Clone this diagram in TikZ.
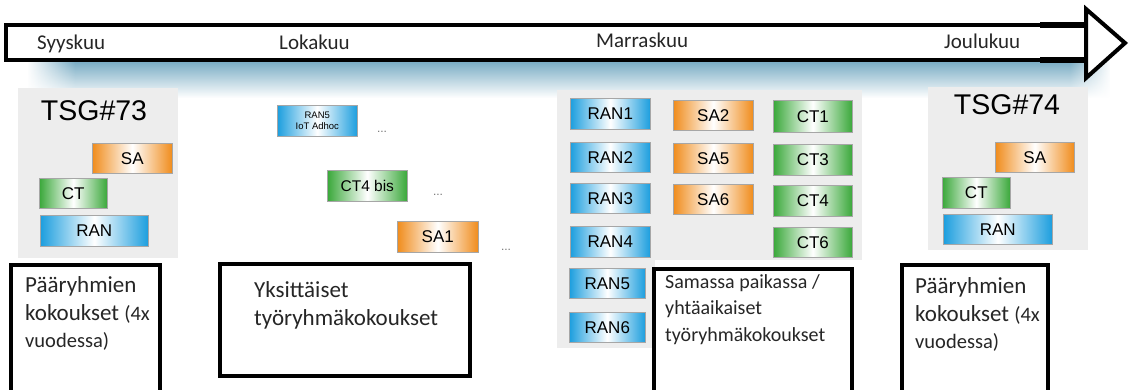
\documentclass[tikz,border=0pt]{standalone}
\usepackage{fontspec}
\setmainfont{Carlito}
\newfontfamily\arial{Liberation Sans}
\usetikzlibrary{fadings}
\definecolor{ranblue}{RGB}{28,158,222}
\definecolor{saorange}{RGB}{240,140,28}
\definecolor{ctgreen}{RGB}{58,168,58}
\definecolor{panelgray}{RGB}{237,237,237}
\definecolor{shadowteal}{RGB}{108,164,190}
\tikzfading[name=shfade, top color=transparent!0, bottom color=transparent!100]
\tikzfading[name=fadeleft, left color=transparent!0, right color=transparent!100]
\tikzfading[name=faderight, left color=transparent!100, right color=transparent!0]

\begin{document}
\begin{tikzpicture}[x=1pt,y=-1pt,
  panel/.style={fill=panelgray, draw=none},
  wg/.style={draw=black!35, line width=0.6pt, left color=#1, right color=#1,
    middle color=white, inner sep=0pt, anchor=north west,
    font=\arial\fontsize{17}{17}\selectfont},
  ranbox/.style={wg=ranblue},
  sabox/.style={wg=saorange},
  ctbox/.style={wg=ctgreen},
  sz/.style 2 args={minimum width=#1, minimum height=#2},
  tsg/.style={font=\arial\fontsize{28.5}{28.5}\selectfont, inner sep=0pt},
  dots/.style={font=\arial\fontsize{12}{12}\selectfont, text=black!55, inner sep=0pt},
  frame/.style={draw=black, line width=4pt, fill=white},
  month/.style={anchor=base west, inner sep=0pt, font=\fontsize{21}{21}\selectfont, text=black!85},
  big/.style={anchor=base west, inner sep=0pt, font=\fontsize{23}{23}\selectfont, text=black!85},
  mid/.style={anchor=base west, inner sep=0pt, font=\fontsize{20}{20}\selectfont, text=black!85},
  small/.style={font=\fontsize{20.5}{20.5}\selectfont},
]
\useasboundingbox (0,0) rectangle (1130,389);
\clip (0,0) rectangle (1130,389);

% soft shadow under the timeline
\fill[shadowteal, path fading=shfade] (28,58) rectangle (1110,98);
\fill[white, path fading=fadeleft] (27,57) rectangle (75,101);
\fill[white, path fading=faderight] (1070,57) rectangle (1111,101);

% timeline arrow
\draw[line width=4pt, fill=white] (1086,25) -- (6,25) -- (6,60) -- (1086,60);
\draw[line width=6pt] (1040,25) -- (1086,25) (1040,60) -- (1086,60);
\draw[line width=4pt, fill=white, line join=miter] (1086,9) -- (1125,43) -- (1086,78) -- cycle;

\node[month] (syys) at (37,49) {Syyskuu};
\node[month] (loka) at (279,49) {Lokakuu};
\node[month] (marras) at (596,47) {Marraskuu};
\node[month] (joulu) at (944,48) {Joulukuu};

% plenary meeting panels
\fill[panel] (18,88) rectangle (178,258);
\node[tsg] (tsg73) at (94,111) {TSG\#73};
\node[sabox, sz={80}{30}] (sa73) at (92,143) {SA};
\node[ctbox, sz={68}{30}] (ct73) at (39,178) {CT};
\node[ranbox, sz={108}{31}] (ran73) at (40,215) {RAN};

\fill[panel] (928,87) rectangle (1088,250);
\node[tsg] (tsg74) at (1007,105) {TSG\#74};
\node[sabox, sz={79}{30}] (sa74) at (995,142) {SA};
\node[ctbox, sz={68}{31}] (ct74) at (942,177) {CT};
\node[ranbox, sz={109}{30}] (ran74) at (943,214) {RAN};

% separate working group meetings
\node[ranbox, sz={80}{31}, font=\arial\fontsize{9.5}{11}\selectfont, align=center] (ran5a) at (277,105) {RAN5\\IoT Adhoc};
\node[dots] (d1) at (382,132) {...};
\node[ctbox, sz={80}{31}, font=\arial\fontsize{15.5}{15.5}\selectfont] (ct4b) at (327,170) {CT4 bis};
\node[dots] (d2) at (438,195) {...};
\node[sabox, sz={81}{31}] (sa1) at (397,221) {SA1};
\node[dots] (d3) at (506,250) {...};

% co-located working group meetings
\fill[panel] (557,90) rectangle (862,260);
\fill[panel] (557,259) rectangle (655,348);
\node[ranbox, sz={80}{31}] (ran1) at (570,98) {RAN1};
\node[ranbox, sz={80}{30}] (ran2) at (570,142) {RAN2};
\node[ranbox, sz={80}{30}] (ran3) at (570,183) {RAN3};
\node[ranbox, sz={80}{31}] (ran4) at (570,226) {RAN4};
\node[ranbox, sz={76}{30}] (ran5) at (569,268) {RAN5};
\node[ranbox, sz={76}{30}] (ran6) at (569,312) {RAN6};
\node[sabox, sz={80}{30}] (sa2) at (673,100) {SA2};
\node[sabox, sz={80}{30}] (sa5) at (673,143) {SA5};
\node[sabox, sz={80}{30}] (sa6) at (673,184) {SA6};
\node[ctbox, sz={79}{32}] (ct1) at (773,100) {CT1};
\node[ctbox, sz={79}{31}] (ct3) at (773,144) {CT3};
\node[ctbox, sz={79}{31}] (ct4) at (773,185) {CT4};
\node[ctbox, sz={79}{30}] (ct6) at (773,227) {CT6};

% captions
\draw[frame] (11,265) rectangle (160,400);
\node[big] (p1) at (25,292) {Pääryhmien};
\node[big] (p2) at (25,320) {kokoukset {\fontsize{20.5}{20.5}\selectfont(4x}};
\node[big, small] (p3) at (25,347) {vuodessa)};

\draw[frame] (220,264) rectangle (470,376);
\node[big] (y1) at (254,297) {Yksittäiset};
\node[big] (y2) at (254,325) {työryhmäkokoukset};

\draw[frame] (654,269) rectangle (852,400);
\node[mid] (s1) at (665,288) {Samassa paikassa /};
\node[mid] (s2) at (665,314) {yhtäaikaiset};
\node[mid] (s3) at (665,341) {työryhmäkokoukset};

\draw[frame] (902,265) rectangle (1048,400);
\node[big] (q1) at (915,293) {Pääryhmien};
\node[big] (q2) at (915,321) {kokoukset {\fontsize{20.5}{20.5}\selectfont(4x}};
\node[big, small] (q3) at (915,348) {vuodessa)};
\end{tikzpicture}
\end{document}
